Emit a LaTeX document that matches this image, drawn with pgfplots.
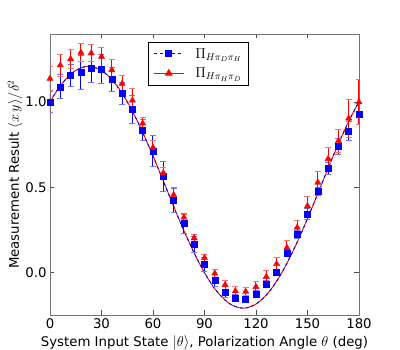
\documentclass[border=0pt]{standalone}
\usepackage{pgfplots}
\pgfplotsset{compat=1.18}
\usepackage{fontspec}
\setmainfont{DejaVu Sans}

% theory curve
\newcommand{\theory}{
(0,1.002) (5,1.082) (10,1.143) (15,1.186) (20,1.207) (22.5,1.21) (25,1.207)
(30,1.186) (35,1.143) (40,1.082) (45,1.002) (50,0.907) (55,0.800) (60,0.684)
(65,0.562) (70,0.438) (75,0.316) (80,0.200) (85,0.093) (90,-0.002) (95,-0.082)
(100,-0.143) (105,-0.186) (110,-0.207) (112.5,-0.21) (115,-0.207) (120,-0.186)
(125,-0.143) (130,-0.082) (135,-0.002) (140,0.093) (145,0.200) (150,0.316)
(155,0.438) (160,0.562) (165,0.684) (170,0.800) (175,0.907) (180,1.002)}
\newcommand{\lf}{\fontsize{13.3}{16}\selectfont}
\newcommand{\legf}{\fontsize{14.5}{17}\selectfont}

\begin{document}
\begin{tikzpicture}
\useasboundingbox (-50pt,-35pt) rectangle (350pt,315pt);
\begin{axis}[
    scale only axis,
    width=309pt, height=281pt,
    xmin=0, xmax=180, ymin=-0.25, ymax=1.4,
    xtick={0,30,...,180},
    ytick={0,0.5,1},
    yticklabel style={/pgf/number format/.cd, fixed, fixed zerofill, precision=1},
    /pgf/number format/assume math mode=true,
    tick align=inside,
    major tick length=4.5pt,
    tick style={black!70, line width=0.6pt},
    axis line style={black!55, line width=0.9pt},
    ticklabel style={font=\lf},
    label style={font=\lf},
    xlabel={System Input State $|\theta\rangle$, Polarization Angle $\theta$ (deg)},
    ylabel={Measurement Result $\langle x\,y\rangle/\delta^2$},
    xlabel style={yshift=0pt},
    ylabel style={yshift=-4pt},
    legend style={at={(0.317,0.972)}, anchor=north west, draw=black,
        line width=0.8pt, row sep=4pt, inner xsep=5pt, inner ysep=4pt,
        /tikz/every odd column/.append style={column sep=9pt}},
    legend cell align=left,
    reverse legend,
    legend image code/.code={
        \draw[mark repeat=2, mark phase=2, #1]
        plot coordinates {(0pt,0pt) (15pt,0pt) (30pt,0pt)};},
]
% curves
\addplot[red, line width=0.9pt, smooth,
    legend image post style={mark=triangle*, mark size=3.6pt, mark options={solid, fill=red}}]
    coordinates {\theory};
\addlegendentry{\legf$\Pi_{H\pi_H\pi_D}$}
\addplot[blue, dashed, line width=0.9pt, smooth,
    legend image post style={mark=square*, mark size=3pt, mark options={solid, fill=blue}}]
    coordinates {\theory};
\addlegendentry{\legf$\Pi_{H\pi_D\pi_H}$}

% blue data
\addplot[forget plot, only marks, color=blue, mark=square*, mark size=3pt,
    error bars/y dir=both, error bars/y explicit,
    error bars/error bar style={color=blue, line width=1pt},
    error bars/error mark options={rotate=90, mark size=3pt, color=blue!55, line width=1pt}]
    table[x=t, y=v, y error=e] {
t v e
0 1.000 0.06
6 1.090 0.07
12 1.156 0.065
18 1.174 0.10
24 1.198 0.08
30 1.194 0.085
36 1.132 0.07
42 1.053 0.065
48 0.956 0.08
54 0.837 0.06
60 0.713 0.09
66 0.564 0.09
72 0.422 0.07
78 0.287 0.06
84 0.163 0.045
90 0.046 0.04
96 -0.045 0.035
102 -0.115 0.03
108 -0.152 0.02
114 -0.158 0.015
120 -0.125 0.02
126 -0.069 0.02
132 0.000 0.02
138 0.113 0.02
144 0.224 0.025
150 0.343 0.03
156 0.475 0.025
162 0.612 0.035
168 0.739 0.045
174 0.830 0.055
180 0.930 0.06
};

% red data
\addplot[forget plot, only marks, color=red, mark=triangle*, mark size=3.6pt,
    error bars/y dir=both, error bars/y explicit,
    error bars/error bar style={color=red, line width=1pt},
    error bars/error mark options={rotate=90, mark size=3pt, color=red!55, line width=1pt}]
    table[x=t, y=v, y error=e] {
t v e
0 1.138 0.07
6 1.217 0.065
12 1.253 0.055
18 1.291 0.055
24 1.287 0.05
30 1.267 0.055
36 1.188 0.06
42 1.109 0.045
48 1.010 0.07
54 0.875 0.035
60 0.733 0.04
66 0.584 0.035
72 0.455 0.045
78 0.323 0.02
84 0.202 0.02
90 0.085 0.02
96 -0.006 0.025
102 -0.073 0.025
108 -0.109 0.025
114 -0.113 0.025
120 -0.085 0.033
126 -0.026 0.035
132 0.050 0.038
138 0.145 0.04
144 0.264 0.04
150 0.390 0.057
156 0.528 0.064
162 0.667 0.064
168 0.772 0.07
174 0.905 0.11
180 1.000 0.13
};
\end{axis}
\end{tikzpicture}
\end{document}
